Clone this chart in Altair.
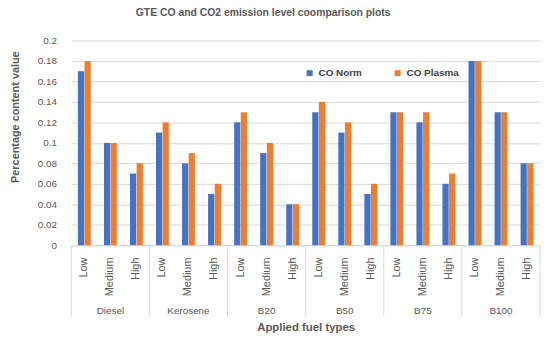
import altair as alt
import pandas as pd

fuels = ["Diesel", "Kerosene", "B20", "B50", "B75", "B100"]
levels = ["Low", "Medium", "High"]
series = ["CO Norm", "CO Plasma"]
co_norm = [0.17, 0.10, 0.07, 0.11, 0.08, 0.05, 0.12, 0.09, 0.04,
           0.13, 0.11, 0.05, 0.13, 0.12, 0.06, 0.18, 0.13, 0.08]
co_plasma = [0.18, 0.10, 0.08, 0.12, 0.09, 0.06, 0.13, 0.10, 0.04,
             0.14, 0.12, 0.06, 0.13, 0.13, 0.07, 0.18, 0.13, 0.08]
y_ticks = [0, 0.02, 0.04, 0.06, 0.08, 0.1, 0.12, 0.14, 0.16, 0.18, 0.2]
colors = ["#4472C4", "#ED7D31"]

keys = [f"{f}_{l}" for f in fuels for l in levels]
rows = []
for i, k in enumerate(keys):
    rows.append({"key": k, "series": series[0], "value": co_norm[i]})
    rows.append({"key": k, "series": series[1], "value": co_plasma[i]})
df = pd.DataFrame(rows)
groups = pd.DataFrame({"fuel": fuels, "key": [f"{f}_Medium" for f in fuels]})
seps_start = pd.DataFrame({"key": [f"{f}_Low" for f in fuels]})
seps_end = pd.DataFrame({"key": [f"{fuels[-1]}_High"]})

W, H = 474, 207
grey = "#595959"
line = "#d9d9d9"
xscale = alt.Scale(domain=keys, paddingInner=0, paddingOuter=0)

bars = alt.Chart(df).mark_bar().encode(
    x=alt.X("key:N", scale=xscale, sort=keys,
            axis=alt.Axis(labelExpr="split(datum.label, '_')[1]", labelAngle=-90,
                          labelAlign="right", labelBaseline="middle", labelPadding=12,
                          ticks=False, domainColor=line, labelColor=grey, labelFontSize=11,
                          title="Applied fuel types", titleY=83, titleBaseline="middle",
                          titleFontSize=11.5, titleFontWeight="bold", titleColor=grey)),
    xOffset=alt.XOffset("series:N", scale=alt.Scale(domain=series, paddingInner=0.06, paddingOuter=1)),
    y=alt.Y("value:Q", scale=alt.Scale(domain=[0, 0.2], nice=False),
            axis=alt.Axis(values=y_ticks, format="~g", gridColor=line, domain=False, ticks=False,
                          labelPadding=15, labelColor=grey, labelFontSize=10,
                          title="Percentage content value", titleX=-56, titleY=77,
                          titleAngle=-90, titleAlign="center", titleBaseline="middle",
                          titleFontSize=11, titleFontWeight="bold", titleColor=grey)),
    color=alt.Color("series:N", scale=alt.Scale(domain=series, range=colors),
                    legend=alt.Legend(orient="none", legendX=236, legendY=28, direction="horizontal",
                                      title=None, symbolType="square", symbolSize=36,
                                      symbolStrokeWidth=0, labelFontSize=10, labelFontWeight="bold",
                                      labelColor="#404040", columnPadding=31, labelOffset=4)),
)

glabels = alt.Chart(groups).mark_text(baseline="middle", fontSize=10, color=grey).encode(
    x=alt.X("key:N", scale=xscale, sort=keys),
    y=alt.value(H + 67),
    text="fuel:N",
)

rule_start = alt.Chart(seps_start).mark_rule(color=line).encode(
    x=alt.X("key:N", scale=xscale, sort=keys, bandPosition=0),
    y=alt.value(H), y2=alt.value(H + 72),
)
rule_end = alt.Chart(seps_end).mark_rule(color=line).encode(
    x=alt.X("key:N", scale=xscale, sort=keys, bandPosition=1),
    y=alt.value(H), y2=alt.value(H + 72),
)

chart = alt.layer(bars, rule_start, rule_end, glabels).properties(
    width=W, height=H,
    title=alt.Title("GTE CO and CO2 emission level coomparison plots", fontSize=10.5,
                    fontWeight="bold", color=grey, anchor="middle", dx=-43, offset=17),
    autosize=alt.AutoSizeParams(type="none"),
    padding={"left": 64, "top": 31, "right": 2, "bottom": 94},
).configure(font="Liberation Sans").configure_view(stroke=None)

chart.save("out.html", embed_options={"renderer": "svg", "actions": False})
